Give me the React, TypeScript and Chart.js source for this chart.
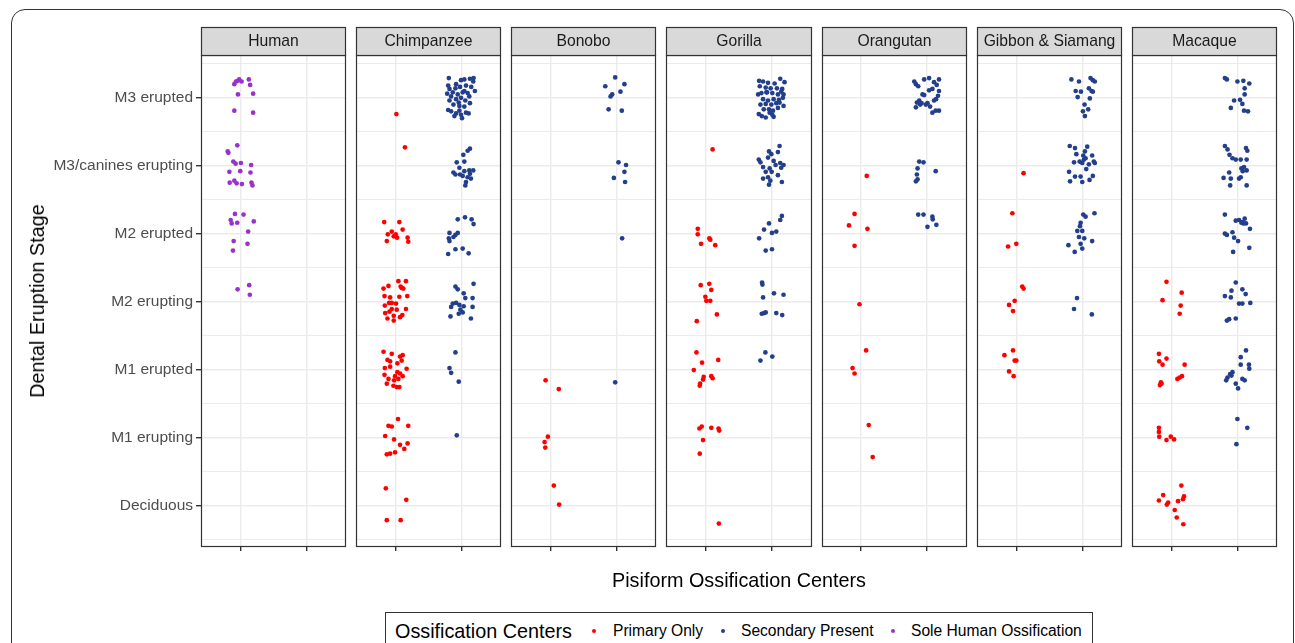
import React, { useEffect, useRef } from 'react';
import { Chart, registerables } from 'chart.js';

Chart.register(...registerables);

const FONT = '"Liberation Sans", Arial, Helvetica, sans-serif';

// y categories (value 1..7)
const stageLabels = ['Deciduous', 'M1 erupting', 'M1 erupted', 'M2 erupting', 'M2 erupted', 'M3/canines erupting', 'M3 erupted'];
const speciesNames = ['Human', 'Chimpanzee', 'Bonobo', 'Gorilla', 'Orangutan', 'Gibbon & Siamang', 'Macaque'];
const groupNames = ['Primary Only', 'Secondary Present', 'Sole Human Ossification'];
const groupColors = ['#FF0000', '#233E8B', '#9932CC'];
const xTitle = 'Pisiform Ossification Centers';
const yTitle = 'Dental Eruption Stage';
const legendTitle = 'Ossification Centers';

// jittered points: [x (1 = primary, 2 = secondary), y (stage 1..7)]
const humanSole = [
  [0.905, 7.2], [0.93, 7.24], [0.955, 7.25], [0.98, 7.27], [1.015, 7.24], [1.125, 7.27], [1.145, 7.19], [1.19, 7.06], [0.96, 7.05], [0.905, 6.81], [1.19, 6.78],
  [0.95, 6.3], [0.805, 6.21], [0.815, 6.19], [0.89, 6.06], [0.925, 6.03], [1.005, 6.04], [1.16, 6.01], [0.83, 5.91], [0.995, 5.92], [1.15, 5.9], [0.835, 5.75], [0.905, 5.78], [0.94, 5.74], [1.02, 5.73], [1.165, 5.75], [1.18, 5.71],
  [0.915, 5.29], [1.045, 5.28], [0.85, 5.2], [0.865, 5.15], [0.95, 5.16], [1.2, 5.18], [1.115, 5.03], [0.895, 4.89], [1.105, 4.85], [0.885, 4.75],
  [0.955, 4.18], [1.13, 4.24], [1.14, 4.1],
];

const chimpPrimary = [
  [1.01, 6.76], [1.14, 6.27],
  [0.825, 5.17], [1.055, 5.17], [0.94, 5.03], [0.88, 4.99], [1.0, 4.99], [1.02, 4.94], [1.105, 5.06], [0.865, 4.89], [1.18, 4.94], [1.19, 4.88], [0.97, 4.96],
  [0.815, 4.19], [0.89, 4.23], [1.04, 4.3], [1.155, 4.3], [1.075, 4.22], [1.115, 4.19], [0.83, 4.08], [0.915, 4.06], [1.055, 4.07], [1.175, 4.08], [0.9, 3.98], [0.835, 3.94], [0.94, 3.98], [1.005, 3.97], [1.155, 3.89], [0.84, 3.83], [0.905, 3.85], [0.97, 3.79], [1.065, 3.77], [1.1, 3.8], [0.875, 3.75], [0.97, 3.72], [1.09, 4.2], [1.015, 3.88], [0.94, 3.89],
  [0.815, 3.26], [0.94, 3.23], [1.065, 3.19], [1.105, 3.21], [0.875, 3.14], [0.915, 3.12], [0.835, 3.02], [1.025, 3.09], [1.165, 3.01], [0.83, 2.92], [0.89, 2.86], [1.025, 2.96], [1.065, 2.94], [0.975, 2.84], [1.04, 2.86], [1.105, 2.9], [0.865, 2.79], [0.965, 2.76], [1.015, 2.74], [1.055, 2.74], [0.99, 2.9], [0.915, 3.04], [1.09, 3.13],
  [1.035, 2.27], [0.89, 2.17], [0.94, 2.16], [1.19, 2.17], [0.84, 2.02], [0.975, 1.97], [1.065, 1.89], [1.18, 1.91], [1.13, 1.83], [0.865, 1.75], [0.915, 1.76], [0.99, 1.78],
  [0.85, 1.25], [1.16, 1.08], [0.865, 0.78], [1.075, 0.78],
];

const chimpSecondary = [
  [1.805, 7.29], [1.99, 7.26], [2.04, 7.27], [2.125, 7.28], [2.18, 7.29], [1.795, 7.18], [1.905, 7.14], [1.975, 7.16], [2.065, 7.18], [2.145, 7.16], [2.2, 7.1], [1.78, 7.06], [1.865, 7.08], [1.94, 7.05], [2.015, 7.08], [2.09, 7.07], [1.815, 6.96], [1.915, 6.98], [1.99, 7.0], [2.055, 6.96], [2.125, 6.92], [1.875, 6.9], [1.965, 6.88], [2.04, 6.87], [1.795, 6.82], [1.84, 6.8], [1.915, 6.77], [1.99, 6.75], [2.065, 6.78], [1.89, 6.73], [2.005, 6.7], [2.105, 6.77], [1.955, 6.93], [1.84, 7.02], [2.115, 7.02], [2.175, 7.24], [1.915, 7.2], [2.04, 7.1], [1.815, 7.13], [1.965, 6.81],
  [2.125, 6.25], [2.09, 6.22], [2.025, 6.16], [1.925, 6.05], [2.04, 6.06], [1.875, 5.9], [1.905, 5.87], [1.965, 5.97], [2.04, 5.92], [2.115, 5.93], [2.175, 5.93], [2.09, 5.83], [2.14, 5.81], [2.015, 5.85], [2.065, 5.76], [2.055, 5.71], [1.975, 5.87], [2.125, 5.88],
  [1.94, 5.21], [2.05, 5.24], [2.15, 5.21], [2.18, 5.14], [1.815, 5.01], [1.905, 4.98], [1.94, 5.01], [1.805, 4.93], [1.815, 4.89], [1.905, 4.77], [2.015, 4.78], [1.795, 4.7], [2.105, 4.71], [1.875, 4.95],
  [2.18, 4.26], [1.905, 4.22], [1.94, 4.18], [2.03, 4.12], [2.055, 4.05], [2.165, 4.05], [1.865, 3.97], [1.84, 3.92], [1.915, 3.98], [2.03, 3.93], [1.98, 3.88], [1.955, 3.82], [2.015, 3.84], [2.165, 3.92], [1.83, 3.78], [2.14, 3.75], [1.965, 3.95],
  [1.905, 3.25], [1.815, 3.02], [1.84, 2.95], [1.955, 2.82],
  [1.925, 2.03],
];

const bonoboPrimary = [
  [0.92, 2.84], [1.12, 2.71],
  [0.955, 2.01], [0.905, 1.93], [0.915, 1.85],
  [1.045, 1.29], [1.125, 1.01],
];

const bonoboSecondary = [
  [1.975, 7.3], [1.825, 7.17], [2.115, 7.2], [2.055, 7.09], [1.93, 7.05], [1.905, 7.02], [1.875, 6.83], [2.075, 6.81],
  [2.025, 6.05], [2.14, 6.01], [2.115, 5.91], [1.955, 5.82], [2.125, 5.76],
  [2.08, 4.93],
  [1.975, 2.81],
];

const gorillaPrimary = [
  [1.1, 6.24],
  [0.875, 5.07], [0.875, 4.99], [1.05, 4.93], [1.065, 4.91], [0.925, 4.85], [1.14, 4.83],
  [0.92, 4.24], [1.05, 4.26], [1.08, 4.17], [0.99, 4.07], [1.005, 4.01], [1.065, 4.01], [1.165, 3.81], [0.86, 3.71],
  [0.855, 3.25], [0.94, 3.1], [1.185, 3.14], [0.815, 2.99], [0.965, 2.89], [0.955, 2.85], [1.08, 2.9], [1.1, 2.87], [0.91, 2.79], [0.905, 2.76],
  [0.935, 2.16], [0.9, 2.13], [1.08, 2.14], [1.19, 2.13], [1.2, 2.1], [0.955, 1.96], [0.905, 1.76],
  [1.195, 0.73],
];

const gorillaSecondary = [
  [1.805, 7.25], [1.865, 7.24], [1.94, 7.22], [2.04, 7.21], [2.125, 7.28], [2.19, 7.23], [1.815, 7.17], [1.905, 7.15], [1.98, 7.14], [2.075, 7.14], [2.155, 7.13], [1.79, 7.05], [1.84, 7.07], [1.925, 7.08], [2.005, 7.07], [2.09, 7.05], [2.175, 7.05], [1.865, 6.98], [1.94, 6.96], [2.025, 6.98], [2.105, 6.97], [2.165, 7.0], [1.825, 6.9], [1.905, 6.91], [1.99, 6.9], [2.065, 6.92], [2.175, 6.88], [1.875, 6.83], [1.955, 6.83], [2.015, 6.81], [2.09, 6.85], [1.8, 6.76], [1.845, 6.73], [1.905, 6.71], [2.005, 6.75], [2.025, 6.72], [1.965, 6.78], [2.115, 6.93], [1.915, 7.08], [2.14, 7.09],
  [2.115, 6.29], [1.955, 6.21], [1.99, 6.17], [2.09, 6.2], [1.8, 6.09], [1.825, 6.05], [1.94, 6.12], [2.025, 6.07], [2.125, 6.04], [2.175, 6.01], [1.865, 5.98], [1.965, 5.96], [2.14, 5.97], [1.995, 5.91], [2.09, 5.86], [1.865, 5.81], [1.94, 5.83], [1.975, 5.78], [1.955, 5.72], [2.15, 5.76], [2.055, 6.01], [1.905, 5.91],
  [2.15, 5.26], [2.125, 5.2], [1.955, 5.15], [1.88, 5.06], [2.065, 5.03], [2.0, 5.01], [1.805, 4.93], [1.905, 4.75], [2.0, 4.77],
  [1.85, 4.28], [1.855, 4.25], [2.03, 4.12], [2.175, 4.1], [1.865, 4.06], [1.845, 3.82], [1.88, 3.83], [1.905, 3.84], [2.065, 3.83], [2.155, 3.8],
  [1.9, 3.25], [2.005, 3.19], [1.825, 3.13],
];

const orangutanPrimary = [
  [1.085, 5.85],
  [0.9, 5.29], [0.815, 5.12], [1.095, 5.07], [0.9, 4.82],
  [0.975, 3.96],
  [1.075, 3.28], [0.87, 3.02], [0.9, 2.94],
  [1.115, 2.18], [1.175, 1.71],
];

const orangutanSecondary = [
  [1.805, 7.24], [1.83, 7.2], [1.865, 7.17], [1.955, 7.27], [2.03, 7.29], [2.105, 7.23], [2.18, 7.27], [2.145, 7.19], [2.03, 7.11], [1.93, 7.05], [1.955, 7.04], [2.08, 7.13], [2.18, 7.1], [2.165, 7.03], [1.845, 6.93], [1.88, 6.96], [1.915, 6.92], [1.98, 6.9], [2.045, 6.87], [2.105, 6.96], [2.135, 6.98], [1.83, 6.86], [2.08, 6.78], [2.13, 6.81], [2.18, 6.81], [2.005, 6.92], [1.895, 6.9],
  [1.88, 6.06], [1.945, 6.05], [1.855, 5.96], [2.13, 5.92], [1.845, 5.87], [1.855, 5.8], [1.83, 5.77],
  [1.865, 5.28], [1.945, 5.28], [2.08, 5.25], [2.085, 5.21], [2.14, 5.13], [2.005, 5.1],
];

const gibbonPrimary = [
  [1.11, 5.89],
  [0.94, 5.3], [0.875, 4.81], [1.0, 4.85],
  [1.09, 4.22], [1.11, 4.19], [0.89, 3.95], [0.975, 4.01], [0.95, 3.86],
  [0.95, 3.28], [0.82, 3.21], [0.975, 3.13], [1.0, 3.13], [0.89, 2.97], [0.96, 2.9],
];

const gibbonSecondary = [
  [1.835, 7.27], [1.95, 7.24], [2.125, 7.29], [2.16, 7.26], [2.19, 7.24], [1.9, 7.1], [1.98, 7.09], [2.1, 7.14], [2.14, 7.1], [2.16, 7.09], [1.93, 7.01], [2.115, 6.99], [2.035, 6.9], [2.09, 6.83], [2.01, 6.8], [2.04, 6.73],
  [1.81, 6.29], [1.89, 6.26], [1.91, 6.17], [2.075, 6.28], [2.04, 6.21], [2.015, 6.15], [2.15, 6.15], [2.05, 6.11], [1.875, 6.05], [1.96, 6.06], [2.025, 6.09], [2.0, 6.04], [2.1, 6.02], [2.175, 6.06], [2.19, 6.04], [1.8, 5.91], [1.89, 5.84], [1.975, 5.84], [2.16, 5.85], [1.815, 5.77], [2.0, 5.76], [2.11, 5.79], [2.06, 5.95],
  [2.015, 5.28], [2.05, 5.25], [2.185, 5.3], [1.975, 5.16], [1.965, 5.11], [1.925, 5.04], [2.0, 5.04], [1.95, 4.95], [2.03, 4.93], [2.15, 4.89], [1.975, 4.85], [1.79, 4.83], [1.885, 4.73], [2.0, 4.78],
  [1.92, 4.05], [1.875, 3.89], [2.145, 3.81],
];

const macaquePrimary = [
  [0.925, 4.29], [0.865, 4.02], [1.155, 4.13], [1.14, 3.94], [1.125, 3.82],
  [0.81, 3.23], [0.925, 3.16], [0.815, 3.12], [0.865, 3.07], [1.2, 3.07], [1.16, 2.9], [1.125, 2.88], [1.09, 2.86], [0.84, 2.81], [0.825, 2.77], [0.85, 2.79],
  [0.81, 2.14], [0.81, 2.08], [0.815, 2.01], [0.99, 2.01], [1.04, 1.97], [0.925, 1.96],
  [1.15, 1.29], [0.875, 1.15], [0.81, 1.07], [1.19, 1.13], [1.175, 1.09], [1.1, 1.06], [0.95, 1.04], [0.93, 1.01], [1.05, 0.93], [1.08, 0.82], [1.18, 0.72],
];

const macaqueSecondary = [
  [1.81, 7.29], [1.84, 7.27], [2.0, 7.24], [2.09, 7.25], [2.18, 7.21], [2.11, 7.14], [2.11, 7.05], [2.04, 6.97], [1.95, 6.96], [1.9, 6.85], [2.075, 6.91], [2.1, 6.81], [2.16, 6.8],
  [1.81, 6.29], [1.85, 6.24], [1.88, 6.16], [1.925, 6.11], [1.975, 6.09], [2.05, 6.09], [2.13, 6.26], [2.15, 6.22], [2.14, 6.09], [2.1, 5.98], [2.06, 5.96], [2.08, 5.92], [2.14, 5.93], [1.875, 5.9], [1.79, 5.82], [1.9, 5.81], [2.025, 5.81], [2.05, 5.83], [1.89, 5.71], [2.14, 5.71],
  [1.81, 5.28], [1.975, 5.19], [2.025, 5.2], [2.075, 5.17], [2.11, 5.22], [2.13, 5.15], [2.09, 5.15], [2.19, 5.07], [1.81, 5.0], [1.84, 4.98], [1.925, 5.02], [1.95, 4.94], [2.01, 4.89], [2.18, 4.79], [1.935, 4.73], [2.06, 5.16],
  [1.975, 4.28], [1.91, 4.16], [1.81, 4.08], [1.9, 4.06], [2.075, 4.18], [2.125, 4.11], [2.025, 3.97], [2.075, 3.97], [2.195, 3.98], [1.875, 3.74], [1.84, 3.72], [1.975, 3.75],
  [2.13, 3.28], [2.05, 3.18], [2.05, 3.07], [2.175, 3.07], [2.18, 3.01], [1.925, 2.96], [1.89, 2.93], [1.85, 2.88], [1.83, 2.84], [1.91, 2.91], [2.075, 2.86], [2.11, 2.84], [1.975, 2.79], [2.01, 2.72],
  [2.0, 2.27], [2.15, 2.14], [1.985, 1.9],
];

// per panel: [primary, secondary, human-only]
const panelData = [
  [[], [], humanSole],
  [chimpPrimary, chimpSecondary, []],
  [bonoboPrimary, bonoboSecondary, []],
  [gorillaPrimary, gorillaSecondary, []],
  [orangutanPrimary, orangutanSecondary, []],
  [gibbonPrimary, gibbonSecondary, []],
  [macaquePrimary, macaqueSecondary, []],
];

// facet layout in x-units: each panel spans 2.2 units, separated by a gap
const GAP = 10 / 65.9;
const PANEL = 2.2 + GAP;
const NP = speciesNames.length;

const isInt = (v: number) => Math.abs(v - Math.round(v)) < 1e-6;

const facetPlugin = {
  id: 'facets',
  beforeDatasetsDraw(chart: any) {
    const { ctx, chartArea, scales } = chart;
    const x = scales.x;
    ctx.save();
    ctx.fillStyle = '#FFFFFF';
    for (let p = 0; p < NP - 1; p++) {
      const a = x.getPixelForValue(p * PANEL + 1.6);
      const b = x.getPixelForValue((p + 1) * PANEL - 0.6);
      ctx.fillRect(a, chartArea.top - 2, b - a, chartArea.bottom - chartArea.top + 3);
    }
    ctx.restore();
  },
  afterDatasetsDraw(chart: any) {
    const { ctx, chartArea, scales } = chart;
    const x = scales.x;
    const top = Math.round(chartArea.top);
    const bottom = Math.round(chartArea.bottom);
    const stripH = 28;
    ctx.save();
    for (let p = 0; p < NP; p++) {
      const l = Math.round(x.getPixelForValue(p * PANEL - 0.6));
      const r = Math.round(x.getPixelForValue(p * PANEL + 1.6));
      ctx.strokeStyle = '#333333';
      ctx.lineWidth = 1.2;
      ctx.strokeRect(l + 0.5, top + 0.5, r - l - 1, bottom - top);
      ctx.fillStyle = '#D9D9D9';
      ctx.fillRect(l + 0.5, top - stripH + 0.5, r - l - 1, stripH);
      ctx.strokeRect(l + 0.5, top - stripH + 0.5, r - l - 1, stripH);
      ctx.fillStyle = '#1A1A1A';
      ctx.font = `15.7px ${FONT}`;
      ctx.textAlign = 'center';
      ctx.textBaseline = 'middle';
      ctx.fillText(speciesNames[p], (l + r) / 2, top - stripH / 2 + 1);
    }
    ctx.restore();
  },
};

export default function App() {
  const ref = useRef<HTMLCanvasElement>(null);

  useEffect(() => {
    if (!ref.current) return;
    const datasets = groupNames.map((name, g) => {
      const pts: { x: number; y: number }[] = [];
      panelData.forEach((cells, p) => {
        (cells[g] as number[][]).forEach(([cx, cy]) => pts.push({ x: p * PANEL + (cx - 1), y: cy }));
      });
      return {
        label: name,
        data: pts,
        backgroundColor: groupColors[g],
        borderWidth: 0,
        pointRadius: 2.35,
        pointHoverRadius: 2.35,
      };
    });
    const xTicks: number[] = [];
    for (let p = 0; p < NP; p++) xTicks.push(p * PANEL, p * PANEL + 1);
    const yTicks: number[] = [];
    for (let v = 0.5; v <= 7.5; v += 0.5) yTicks.push(v);

    const chart = new Chart(ref.current, {
      type: 'scatter',
      data: { datasets },
      plugins: [facetPlugin],
      options: {
        animation: false,
        responsive: false,
        devicePixelRatio: 1,
        layout: { padding: { top: 55, right: 18, bottom: 0, left: 0 } },
        plugins: { legend: { display: false }, tooltip: { enabled: false } },
        scales: {
          x: {
            type: 'linear',
            min: -0.6,
            max: (NP - 1) * PANEL + 1.6,
            afterBuildTicks: (s: any) => { s.ticks = xTicks.map((v) => ({ value: v })); },
            afterFit: (s: any) => { s.height = 97; },
            grid: { color: '#EBEBEB', lineWidth: 1.4, tickColor: '#333333', tickLength: 5, drawTicks: true },
            border: { display: false },
            ticks: { autoSkip: false, maxRotation: 0, padding: 0, font: { size: 1 }, callback: () => '' },
          },
          y: {
            type: 'linear',
            min: 0.4,
            max: 7.63,
            afterBuildTicks: (s: any) => { s.ticks = yTicks.map((v) => ({ value: v })); },
            afterFit: (s: any) => { s.width = 201; },
            grid: {
              color: '#EBEBEB',
              lineWidth: (c: any) => (c.tick && isInt(c.tick.value) ? 1.4 : 1.0),
              tickColor: (c: any) => (c.tick && isInt(c.tick.value) ? '#333333' : 'rgba(0,0,0,0)'),
              tickLength: 5,
            },
            border: { display: false },
            ticks: {
              autoSkip: false,
              padding: 3,
              color: '#4D4D4D',
              font: { family: FONT, size: 15.5 },
              callback: (v: any) => (isInt(Number(v)) ? stageLabels[Math.round(Number(v)) - 1] : ''),
            },
          },
        },
      } as any,
    });
    return () => chart.destroy();
  }, []);

  const legendItems = [
    { dot: 208, text: 227 },
    { dot: 337, text: 355 },
    { dot: 507, text: 525 },
  ];

  return (
    <div style={{ position: 'absolute', left: 0, top: 0, width: 1295, height: 643, overflow: 'hidden', background: '#fff', fontFamily: FONT }}>
      <div style={{ position: 'absolute', left: 11, top: 9, width: 1283, height: 720, border: '1px solid #333', borderRadius: 14, boxSizing: 'border-box' }} />
      <canvas ref={ref} width={1295} height={643} style={{ position: 'absolute', left: 0, top: 0, width: 1295, height: 643 }} />
      <div style={{ position: 'absolute', left: 37, top: 301, transform: 'translate(-50%, -50%) rotate(-90deg)', whiteSpace: 'nowrap', fontSize: 19.8, color: '#000', lineHeight: '22px' }}>{yTitle}</div>
      <div style={{ position: 'absolute', left: 739, top: 580, transform: 'translate(-50%, -50%)', whiteSpace: 'nowrap', fontSize: 19.8, color: '#000', lineHeight: '22px' }}>{xTitle}</div>
      <div style={{ position: 'absolute', left: 385, top: 612, width: 708, height: 60, border: '1px solid #333', boxSizing: 'border-box', background: '#fff' }}>
        <div style={{ position: 'absolute', left: 9, top: 7, fontSize: 19.8, lineHeight: '22px', whiteSpace: 'nowrap', color: '#000' }}>{legendTitle}</div>
        {legendItems.map((it, i) => (
          <React.Fragment key={i}>
            <div style={{ position: 'absolute', left: it.dot - 2, top: 16, width: 4, height: 4, borderRadius: 2, background: groupColors[i] }} />
            <div style={{ position: 'absolute', left: it.text, top: 8, fontSize: 15.6, lineHeight: '20px', whiteSpace: 'nowrap', color: '#000' }}>{groupNames[i]}</div>
          </React.Fragment>
        ))}
      </div>
    </div>
  );
}
